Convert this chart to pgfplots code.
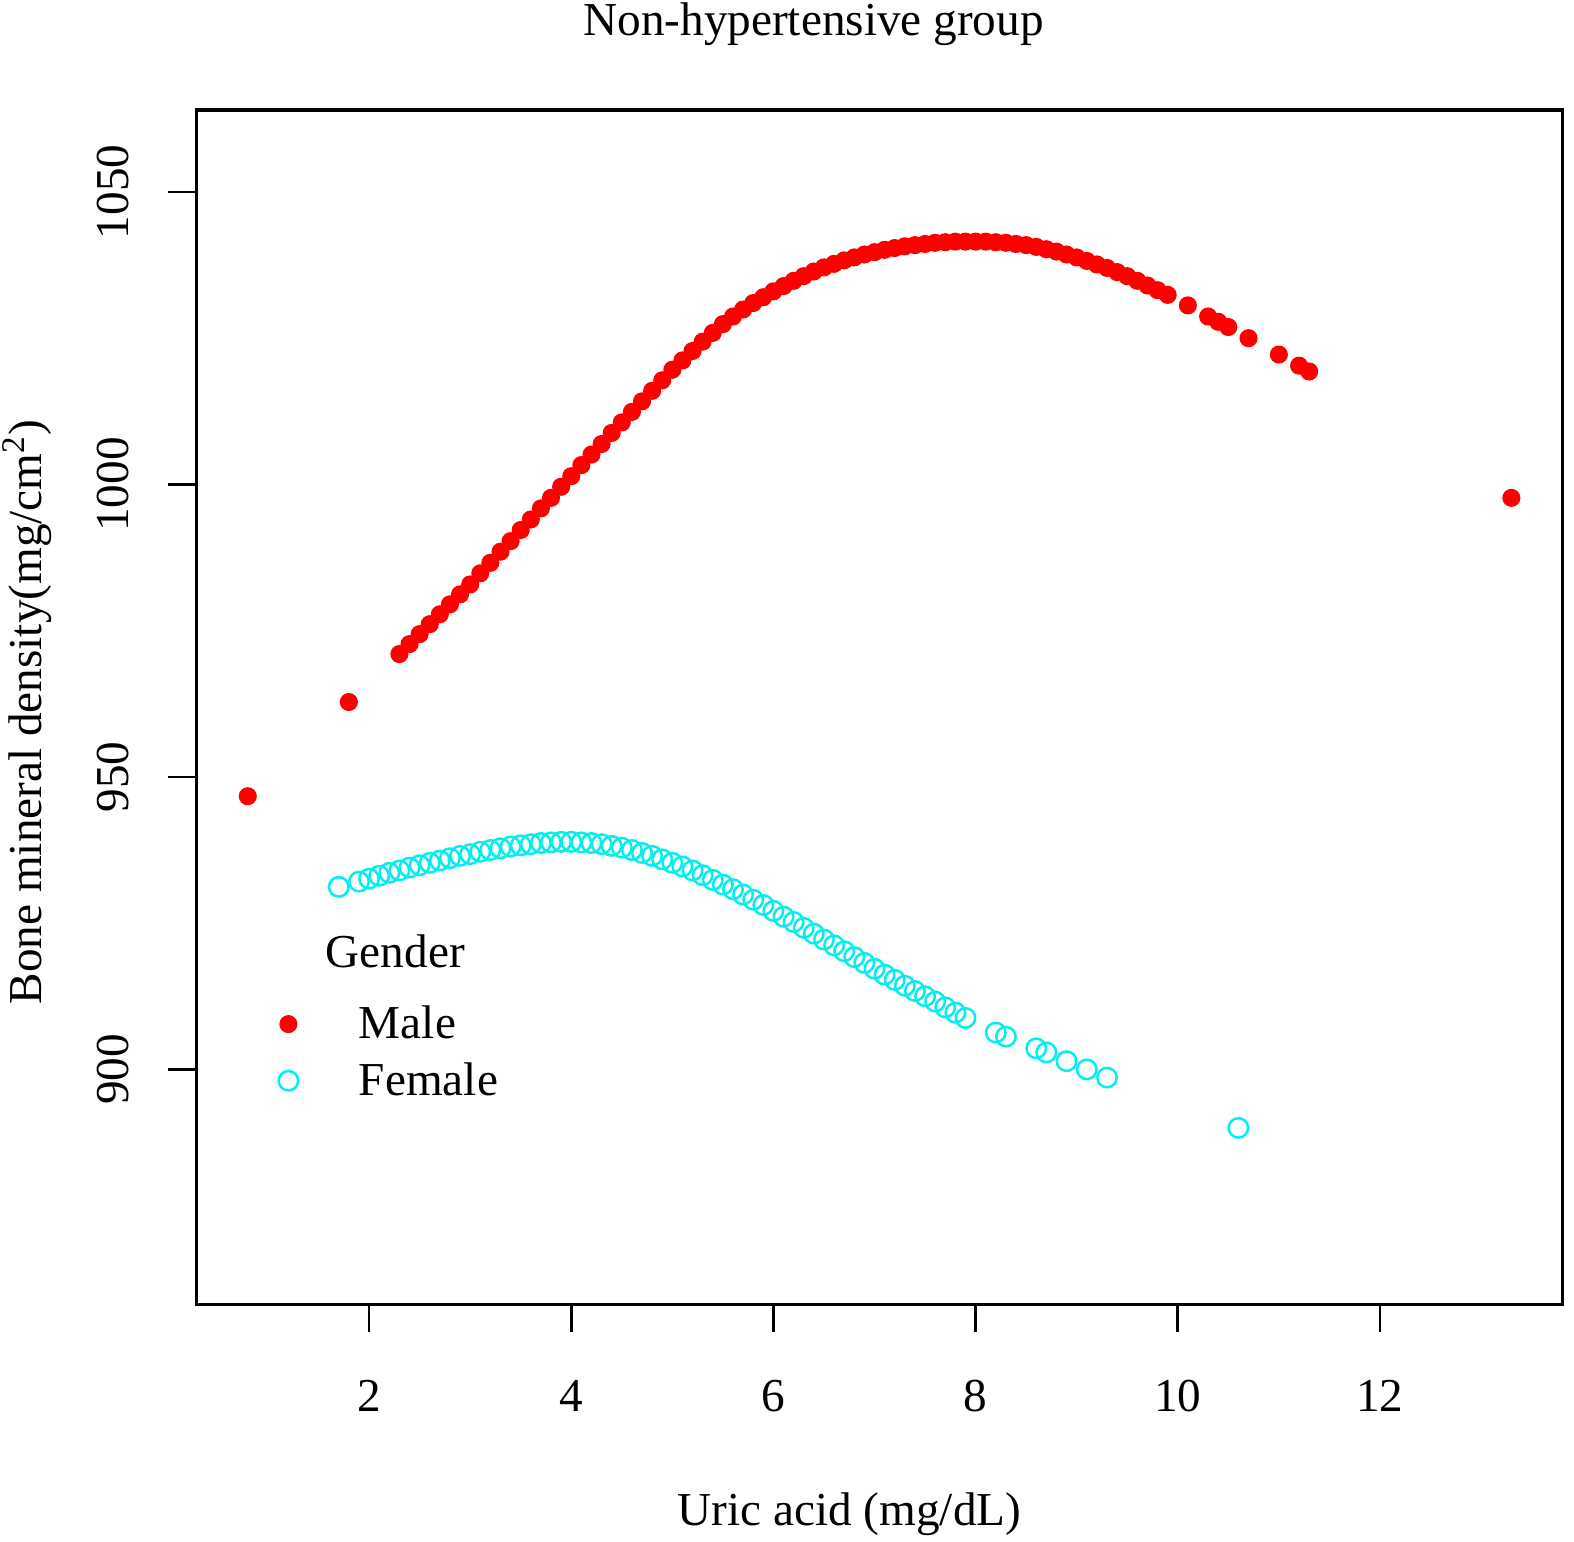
\documentclass[border=0pt]{standalone}
\usepackage{fontspec}
\setmainfont{Liberation Serif}
\usepackage{pgfplots}
\pgfplotsset{compat=1.18}
\usepackage{pgfplotstable}
\definecolor{rred}{RGB}{255,0,0}
\definecolor{rcyan}{RGB}{0,240,240}

\pgfplotstableread{
x y
0.8 946.7
1.8 962.8
2.3 971.0
2.4 972.7
2.5 974.4
2.6 976.1
2.7 977.8
2.8 979.5
2.9 981.2
3.0 982.9
3.1 984.8
3.2 986.6
3.3 988.5
3.4 990.3
3.5 992.2
3.6 994.0
3.7 995.9
3.8 997.7
3.9 999.6
4.0 1001.4
4.1 1003.3
4.2 1005.1
4.3 1006.9
4.4 1008.8
4.5 1010.6
4.6 1012.4
4.7 1014.2
4.8 1016.0
4.9 1017.8
5.0 1019.6
5.1 1021.2
5.2 1022.8
5.3 1024.4
5.4 1025.9
5.5 1027.4
5.6 1028.7
5.7 1029.9
5.8 1031.0
5.9 1032.0
6.0 1033.0
6.1 1033.9
6.2 1034.8
6.3 1035.6
6.4 1036.4
6.5 1037.1
6.6 1037.7
6.7 1038.3
6.8 1038.8
6.9 1039.3
7.0 1039.7
7.1 1040.1
7.2 1040.4
7.3 1040.7
7.4 1040.9
7.5 1041.1
7.6 1041.3
7.7 1041.4
7.8 1041.5
7.9 1041.5
8.0 1041.5
8.1 1041.5
8.2 1041.4
8.3 1041.3
8.4 1041.1
8.5 1040.9
8.6 1040.6
8.7 1040.2
8.8 1039.8
8.9 1039.3
9.0 1038.8
9.1 1038.2
9.2 1037.6
9.3 1037.0
9.4 1036.3
9.5 1035.6
9.6 1034.8
9.7 1034.0
9.8 1033.2
9.9 1032.4
10.1 1030.6
10.3 1028.7
10.4 1027.8
10.5 1026.9
10.7 1025.0
11.0 1022.2
11.2 1020.3
11.3 1019.3
13.3 997.7
}\male

\pgfplotstableread{
x y
1.7 931.2
1.9 932.1
2.0 932.6
2.1 933.1
2.2 933.6
2.3 934.0
2.4 934.5
2.5 934.9
2.6 935.3
2.7 935.7
2.8 936.1
2.9 936.5
3.0 936.8
3.1 937.2
3.2 937.5
3.3 937.8
3.4 938.1
3.5 938.3
3.6 938.5
3.7 938.7
3.8 938.8
3.9 938.9
4.0 938.9
4.1 938.8
4.2 938.7
4.3 938.5
4.4 938.2
4.5 937.9
4.6 937.5
4.7 937.0
4.8 936.5
4.9 935.9
5.0 935.3
5.1 934.7
5.2 934.0
5.3 933.2
5.4 932.4
5.5 931.6
5.6 930.8
5.7 929.9
5.8 929.0
5.9 928.1
6.0 927.1
6.1 926.1
6.2 925.2
6.3 924.2
6.4 923.2
6.5 922.2
6.6 921.2
6.7 920.2
6.8 919.2
6.9 918.2
7.0 917.2
7.1 916.2
7.2 915.3
7.3 914.3
7.4 913.4
7.5 912.5
7.6 911.6
7.7 910.6
7.8 909.7
7.9 908.8
8.2 906.3
8.3 905.6
8.6 903.6
8.7 902.9
8.9 901.4
9.1 900.0
9.3 898.6
10.6 890.0
}\female

\begin{document}
\begin{tikzpicture}
\begin{axis}[name=ax,
  scale only axis, width=492pt, height=430pt,
  xmin=0.289, xmax=13.81, ymin=859.8, ymax=1064.0,
  xtick={2,4,6,8,10,12}, ytick={900,950,1000,1050},
  xtick pos=bottom, ytick pos=left, tick align=outside,
  major tick length=10pt,
  axis line style={line width=1.1pt},
  every tick/.style={line width=1pt, black},
  /pgf/number format/assume math mode=true,
  /pgf/number format/1000 sep={},
  tick label style={font=\fontsize{17}{20.4}\selectfont},
  xticklabel style={anchor=center, yshift=-23pt},
  yticklabel style={rotate=90, anchor=center, yshift=20pt},
  title={Non-hypertensive group},
  title style={font=\fontsize{17}{20.4}\selectfont, at={(rel axis cs:0.4517,1)}, anchor=center, yshift=25pt},
  xlabel={Uric acid (mg/dL)},
  xlabel style={font=\fontsize{17}{20.4}\selectfont, at={(rel axis cs:0.478,0)}, anchor=center, yshift=-75.5pt},
  ylabel={Bone mineral density(mg/cm\textsuperscript{2})},
  ylabel style={font=\fontsize{17}{20.4}\selectfont, at={(rel axis cs:0,0.496)}, anchor=center, yshift=60.8pt},
  legend style={draw=none, fill=none, at={(axis cs:1.10,902.9)}, anchor=west, inner sep=0pt,
    font=\fontsize{17}{20.4}\selectfont, row sep=7.1pt,
    nodes={inner sep=0pt}, /tikz/every odd column/.append style={column sep=21.9pt}},
  legend cell align=left,
  legend image code/.code={\draw[#1] plot coordinates {(0pt,0pt)};},
]
\addplot[only marks, mark=*, mark size=3.05pt, draw=rred, fill=rred] table[x=x,y=y]{\male};
\addlegendentry{Male}
\addplot[only marks, mark=o, mark size=3.5pt, draw=rcyan, line width=0.9pt] table[x=x,y=y]{\female};
\addlegendentry{Female}
\node[font=\fontsize{17}{20.4}\selectfont, anchor=center] at (axis cs:2.26,920.2) {Gender};
\end{axis}
\pgfresetboundingbox
\path[use as bounding box] ([shift={(-70.6pt,-85.3pt)}]ax.south west) rectangle ([shift={(4pt,39.6pt)}]ax.north east);
\end{tikzpicture}
\end{document}
